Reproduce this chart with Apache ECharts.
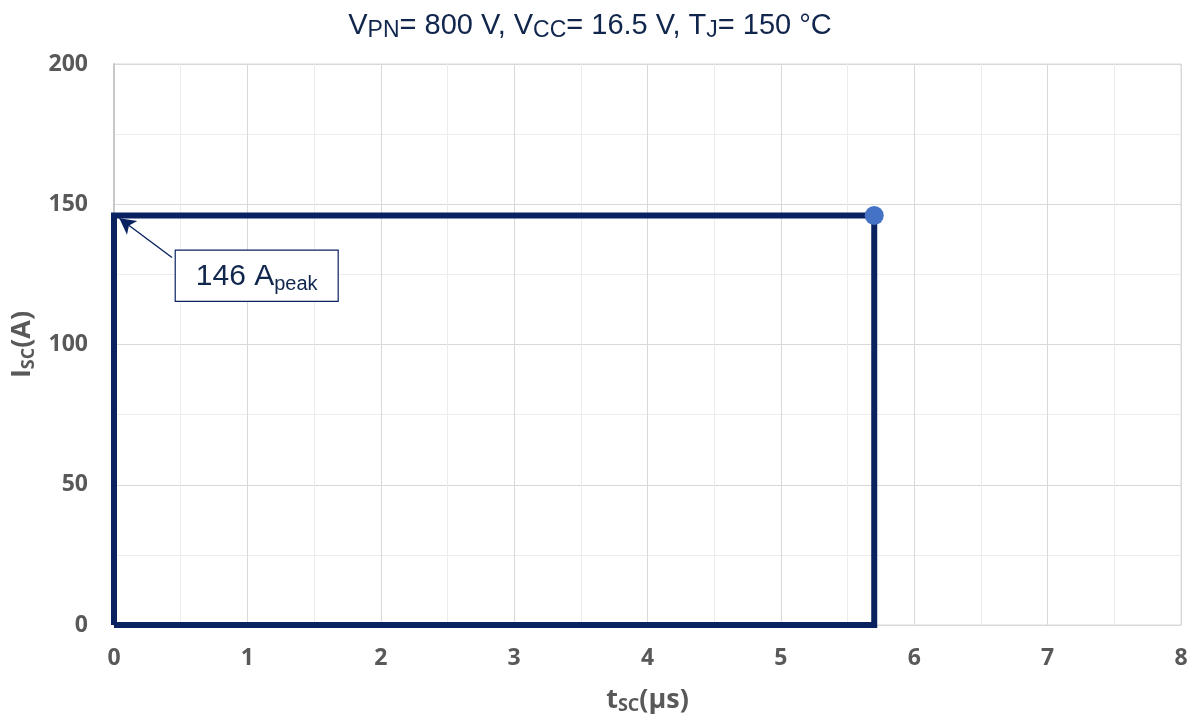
<!DOCTYPE html>
<html>
<head>
<meta charset="utf-8">
<script src="https://cdn.jsdelivr.net/npm/echarts@6/dist/echarts.min.js"></script>
<style>
  html, body { margin: 0; padding: 0; background: #fff; }
  #chart { width: 1203px; height: 720px; }
</style>
</head>
<body>
<div id="chart"></div>
<script>
// Short-circuit safe operating area: time (µs) and current (A)
const tscUs = [0, 0, 5.7, 5.7, 0];
const iscA = [0, 146, 146, 0, 0];
const peakPoint = [5.7, 146];
const peakLabel = '146';
// Callout: box anchor and arrow tip, in data units
const calloutBox = [1.07, 124.5];
const arrowFrom = [0.435, 131];
const arrowTo = [0.04, 145];
const xTicks = [0, 1, 2, 3, 4, 5, 6, 7, 8];
const yTicks = [0, 50, 100, 150, 200];

const navy = '#0a2260';
const textNavy = '#10264d';
const tickFont = { fontFamily: 'Open Sans', fontWeight: 'bold', fontSize: 23, color: '#595959' };
const nameFont = {
  fontFamily: 'Open Sans', fontWeight: 'bold', fontSize: 27, color: '#595959',
  rich: { sub: { fontFamily: 'Open Sans', fontWeight: 'bold', fontSize: 18, color: '#595959', padding: [12, 0, 0, 0] } }
};

const chart = echarts.init(document.getElementById('chart'));
chart.setOption({
  animation: false,
  backgroundColor: '#ffffff',
  title: {
    text: 'V{sub|PN}= 800 V, V{sub|CC}= 16.5 V, T{sub|J}= 150 °C',
    left: 585, top: 4, textAlign: 'center',
    textStyle: {
      fontFamily: 'Liberation Sans', fontSize: 29, fontWeight: 'normal', color: textNavy,
      rich: {
        sub: { fontFamily: 'Liberation Sans', fontSize: 23, color: textNavy, padding: [10, 0, 0, 0] }
      }
    }
  },
  grid: { left: 114, right: 22, top: 64, bottom: 94, show: true, borderColor: '#d9d9d9', borderWidth: 1 },
  xAxis: {
    type: 'value', min: 0, max: 8, interval: 1,
    name: 't{sub|SC}(µs)', nameLocation: 'middle', nameGap: 60,
    nameTextStyle: nameFont,
    axisLine: { show: true, lineStyle: { color: '#d9d9d9', width: 1 } },
    axisTick: { show: false },
    axisLabel: Object.assign({ margin: 22, formatter: v => xTicks.includes(v) ? String(v) : '' }, tickFont),
    splitLine: { show: true, lineStyle: { color: '#d9d9d9', width: 1 } },
    minorTick: { show: false, splitNumber: 2 },
    minorSplitLine: { show: true, lineStyle: { color: '#ececec', width: 1 } }
  },
  yAxis: {
    type: 'value', min: 0, max: 200, interval: 50,
    name: 'I{sub|SC}(A)', nameLocation: 'middle', nameGap: 76, nameRotate: 90,
    nameTextStyle: nameFont,
    axisLine: { show: true, lineStyle: { color: '#c8c8c8', width: 2 } },
    axisTick: { show: false },
    axisLabel: Object.assign({ margin: 26, formatter: v => yTicks.includes(v) ? String(v) : '' }, tickFont),
    splitLine: { show: true, lineStyle: { color: '#d9d9d9', width: 1 } },
    minorTick: { show: false, splitNumber: 2 },
    minorSplitLine: { show: true, lineStyle: { color: '#ececec', width: 1 } }
  },
  series: [
    {
      type: 'line',
      data: tscUs.map((t, i) => [t, iscA[i]]),
      showSymbol: false,
      lineStyle: { color: navy, width: 6, join: 'miter' },
      silent: true,
      markLine: {
        silent: true,
        symbol: ['none', 'arrow'],
        symbolSize: [13, 16],
        lineStyle: { color: navy, width: 1.4, type: 'solid' },
        label: { show: false },
        data: [[{ coord: arrowFrom }, { coord: arrowTo }]]
      }
    },
    {
      type: 'scatter',
      data: [peakPoint],
      symbolSize: 19,
      itemStyle: { color: '#4472c4', opacity: 1 },
      z: 5
    },
    {
      type: 'scatter',
      data: [calloutBox],
      symbolSize: 0,
      silent: true,
      itemStyle: { opacity: 1 },
      label: {
        show: true,
        position: 'inside',
        opacity: 1,
        formatter: peakLabel + ' A{sub|peak}',
        backgroundColor: '#ffffff',
        borderColor: navy,
        borderWidth: 1.2,
        padding: [8, 20, 6, 20],
        fontFamily: 'Liberation Sans', fontSize: 30, color: textNavy,
        rich: { sub: { fontFamily: 'Liberation Sans', fontSize: 20, color: textNavy, padding: [16, 0, 0, 0] } }
      },
      z: 6
    }
  ]
});
</script>
</body>
</html>
